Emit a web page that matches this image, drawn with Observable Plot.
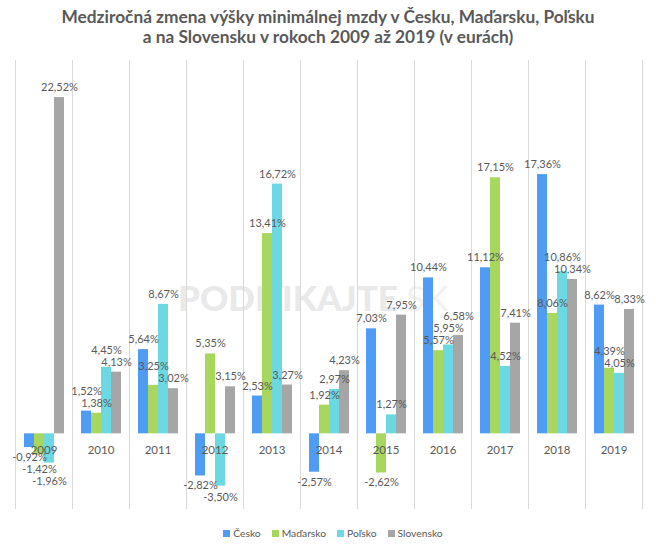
<!DOCTYPE html>
<html>
<head>
<meta charset="utf-8">
<script src="https://cdn.jsdelivr.net/npm/d3@7"></script>
<script src="https://cdn.jsdelivr.net/npm/@observablehq/plot@0.6"></script>
<style>
  body { margin: 0; background: #fff; font-family: Lato, "Open Sans", sans-serif; }
  #wrap { position: relative; width: 656px; height: 545px; }
  #title { text-align: center; font-weight: bold; font-size: 17.3px; line-height: 20px; color: #595959; padding-top: 7px; height: 43px; }
  #wm { position: absolute; left: 178px; top: 280px; font-size: 35px; line-height: 35px; font-weight: 900; color: #e9e9e9; letter-spacing: 0px; z-index: 0; white-space: nowrap; }
  #wm span { color: #f1f1f1; font-weight: 400; }
  #chart { position: relative; z-index: 1; }
  #legend { display: flex; justify-content: center; gap: 11px; font-size: 10.3px; color: #595959; margin-top: 12px; padding-left: 10px; }
  #legend .it { display: flex; align-items: center; gap: 3px; }
  #legend .sw { width: 7px; height: 7px; display: inline-block; }
</style>
</head>
<body>
<div id="wrap">
  <div id="title">Medziročná zmena výšky minimálnej mzdy v Česku, Maďarsku, Poľsku<br>a na Slovensku v rokoch 2009 až 2019 (v eurách)</div>
  <div id="wm">PODNIKAJTE<span>.SK</span></div>
  <div id="chart"></div>
  <div id="legend"></div>
</div>
<script>
const years = ["2009","2010","2011","2012","2013","2014","2015","2016","2017","2018","2019"];
const countries = ["Česko","Maďarsko","Poľsko","Slovensko"];
const colors = ["#4e9cf3","#a7d75c","#6cd8e2","#a6a6a6"];
const cesko     = [-0.92, 1.52, 5.64, -2.82, 2.53, -2.57, 7.03, 10.44, 11.12, 17.36, 8.62];
const madarsko  = [-1.42, 1.38, 3.25, 5.35, 13.41, 1.92, -2.62, 5.57, 17.15, 8.06, 4.39];
const polsko    = [-1.96, 4.45, 8.67, -3.50, 16.72, 2.97, 1.27, 5.95, 4.52, 10.86, 4.05];
const slovensko = [22.52, 4.13, 3.02, 3.15, 3.27, 4.23, 7.95, 6.58, 7.41, 10.34, 8.33];

const W = 656, H = 465, mL = 13, mR = 13, mT = 10, mB = 7;
const yDomain = [-5, 25];
const series = [cesko, madarsko, polsko, slovensko];
const data = [];
years.forEach((y, i) => countries.forEach((c, j) => data.push({year: y, country: c, idx: j, value: series[j][i]})));
const fmt = d => d.value.toFixed(2).replace(".", ",") + "%";

// label placement with simple collision avoidance (in pixels, converted back through the scale)
const yS = Plot.scale({y: {domain: yDomain, range: [H - mB, mT]}});
const fw = (W - mL - mR) / years.length;
const xS = Plot.scale({x: {type: "band", domain: countries, range: [0, fw], paddingInner: 0, paddingOuter: 0.78}});
const LW = 30, LH = 12, OFF = 10;
years.forEach(yr => {
  const grp = data.filter(d => d.year === yr);
  const pos = grp.filter(d => d.value >= 0).sort((a, b) => a.value - b.value);
  const neg = grp.filter(d => d.value < 0).sort((a, b) => b.value - a.value);
  const place = (arr, sign) => {
    const placed = [];
    arr.forEach(d => {
      const xc = xS.apply(d.country) + xS.bandwidth / 2;
      let py = yS.apply(d.value) - sign * OFF;
      let moved = true;
      while (moved) {
        moved = false;
        for (const p of placed) {
          if (Math.abs(p.x - xc) < LW && Math.abs(p.y - py) < LH) {
            py = p.y - sign * LH;
            moved = true;
          }
        }
      }
      placed.push({x: xc, y: py});
      d.labelY = yS.invert(py);
    });
  };
  place(pos, 1);
  place(neg, -1);
});

const chart = Plot.plot({
  width: W,
  height: H,
  marginLeft: mL,
  marginRight: mR,
  marginTop: mT,
  marginBottom: mB,
  style: {fontFamily: "Lato, 'Open Sans', sans-serif", fontSize: "11px", color: "#595959", background: "transparent"},
  fx: {domain: years, padding: 0, axis: null},
  x: {domain: countries, paddingInner: 0, paddingOuter: 0.78, axis: null},
  y: {domain: yDomain, axis: null},
  color: {domain: countries, range: colors},
  marks: [
    Plot.frame({anchor: "left", stroke: "#d9d9d9"}),
    Plot.frame({anchor: "right", stroke: "#d9d9d9"}),
    Plot.barY(data, {fx: "year", x: "country", y: "value", fill: "country", inset: 0}),
    Plot.text(data, {fx: "year", x: "country", y: "labelY", text: fmt, fill: "#595959", fontSize: 11}),
    Plot.text(years, {fx: d => d, y: 0, text: d => d, dy: 16, fill: "#595959", fontSize: 11.5})
  ]
});
document.getElementById("chart").appendChild(chart);

const leg = document.getElementById("legend");
countries.forEach((c, j) => {
  const it = document.createElement("div");
  it.className = "it";
  it.innerHTML = `<span class="sw" style="background:${colors[j]}"></span><span>${c}</span>`;
  leg.appendChild(it);
});
</script>
</body>
</html>
